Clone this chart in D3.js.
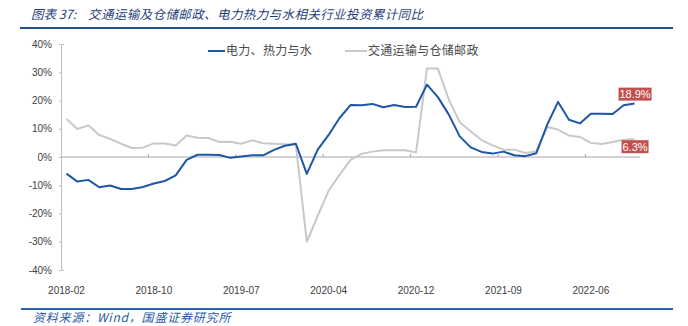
<!DOCTYPE html>
<html>
<head>
<meta charset="utf-8">
<script src="https://cdn.jsdelivr.net/npm/d3@7"></script>
<style>
  html, body { margin: 0; padding: 0; background: #fff; }
  svg { display: block; }
</style>
</head>
<body>
<svg id="chart" width="688" height="326"></svg>
<script>
// Monthly cumulative YoY investment growth (%), January folded into February
const categories = [
  "2018-02","2018-03","2018-04","2018-05","2018-06","2018-07","2018-08","2018-09","2018-10","2018-11","2018-12",
  "2019-02","2019-03","2019-04","2019-05","2019-06","2019-07","2019-08","2019-09","2019-10","2019-11","2019-12",
  "2020-02","2020-03","2020-04","2020-05","2020-06","2020-07","2020-08","2020-09","2020-10","2020-11","2020-12",
  "2021-02","2021-03","2021-04","2021-05","2021-06","2021-07","2021-08","2021-09","2021-10","2021-11","2021-12",
  "2022-02","2022-03","2022-04","2022-05","2022-06","2022-07","2022-08","2022-09","2022-10"
];

// 电力、热力与水
const powerHeatWater = [
  -5.9, -8.7, -8.1, -10.7, -10.1, -11.3, -11.3, -10.6, -9.4, -8.5, -6.5,
  -1.0, 0.8, 0.8, 0.7, -0.3, 0.2, 0.6, 0.6, 2.5, 4.0, 4.7,
  -6.0, 2.6, 7.8, 13.8, 18.4, 18.3, 18.8, 17.6, 18.4, 17.7, 17.8,
  25.6, 21.2, 15.0, 7.3, 3.4, 1.8, 1.2, 1.9, 0.6, 0.3, 1.3,
  11.4, 19.5, 13.2, 11.9, 15.3, 15.3, 15.2, 18.3, 18.9
];

// 交通运输与仓储邮政
const transportStorage = [
  13.5, 9.9, 11.2, 7.8, 6.4, 4.7, 3.2, 3.3, 4.8, 4.8, 4.1,
  7.6, 6.8, 6.7, 5.3, 5.4, 4.7, 5.9, 4.9, 4.7, 4.5, 4.3,
  -30.0, -20.8, -11.9, -6.3, -1.0, 1.1, 1.9, 2.4, 2.4, 2.4, 1.6,
  31.3, 31.3, 20.3, 12.3, 9.1, 6.0, 4.1, 2.6, 2.6, 1.4, 2.0,
  10.6, 9.7, 7.6, 7.1, 5.0, 4.6, 5.3, 6.1, 6.3
];

const yTicks = [40, 30, 20, 10, 0, -10, -20, -30, -40];
const xLabels = ["2018-02","2018-10","2019-07","2020-04","2020-12","2021-09","2022-06"];

const seriesNames = ["电力、热力与水", "交通运输与仓储邮政"];
const seriesColors = ["#1f56a6", "#c8c8c8"];

const svg = d3.select("#chart");
const plotLeft = 61, plotRight = 640, plotTop = 44, plotBottom = 270;

const x = d3.scaleBand().domain(categories).range([plotLeft, plotRight]).padding(0);
const y = d3.scaleLinear().domain([-40, 40]).range([plotBottom, plotTop]);
const cx = d => x(d) + x.bandwidth() / 2;

const latin = "'Liberation Sans', Arial, sans-serif";
const cjk = "'Noto Sans CJK SC', 'Noto Sans', sans-serif";

// Header: figure number, then the caption
svg.append("text")
  .attr("x", 31).attr("y", 19)
  .attr("font-family", cjk).attr("font-size", 12.5)
  .attr("font-style", "italic")
  .attr("fill", "#1f3f7a")
  .text("图表 37:");
svg.append("text")
  .attr("x", 88).attr("y", 19)
  .attr("font-family", cjk).attr("font-size", 12.5)
  .attr("letter-spacing", 0.4)
  .attr("font-style", "italic")
  .attr("fill", "#1f3f7a")
  .text("交通运输及仓储邮政、电力热力与水相关行业投资累计同比");

svg.append("line")
  .attr("x1", 20).attr("x2", 673).attr("y1", 28).attr("y2", 28)
  .attr("stroke", "#1f4e8c").attr("stroke-width", 2);

svg.append("line")
  .attr("x1", 21).attr("x2", 673).attr("y1", 309).attr("y2", 309)
  .attr("stroke", "#2e62aa").attr("stroke-width", 2);

svg.append("text")
  .attr("x", 33).attr("y", 322)
  .attr("font-family", cjk).attr("font-size", 12)
  .attr("letter-spacing", 0.8)
  .attr("font-style", "italic")
  .attr("fill", "#2a5aa5")
  .text("资料来源：Wind，国盛证券研究所");

// Y axis
const yAxis = d3.axisLeft(y)
  .tickValues(yTicks)
  .tickFormat(d => d + "%")
  .tickSizeInner(2)
  .tickSizeOuter(-3)
  .tickPadding(7);

const gy = svg.append("g")
  .attr("transform", `translate(${plotLeft},0)`)
  .call(yAxis);
gy.select(".domain").attr("stroke", "#bfbfbf");
gy.selectAll(".tick line").attr("stroke", "#bfbfbf");
gy.selectAll(".tick text")
  .attr("font-family", latin).attr("font-size", 10).attr("fill", "#404040");

// Category labels along the bottom
const xAxis = d3.axisBottom(x)
  .tickValues(xLabels)
  .tickSize(0)
  .tickPadding(0);

const gx = svg.append("g")
  .attr("transform", `translate(0,${287})`)
  .call(xAxis);
gx.select(".domain").remove();
gx.selectAll(".tick text")
  .attr("font-family", latin).attr("font-size", 10).attr("fill", "#404040");

// Zero line with category-boundary ticks
svg.append("line")
  .attr("x1", plotLeft).attr("x2", plotRight)
  .attr("y1", y(0)).attr("y2", y(0))
  .attr("stroke", "#a6a6a6").attr("stroke-width", 1.2);

svg.append("g").selectAll("line")
  .data(xLabels.slice(1))
  .join("line")
  .attr("x1", d => x(d)).attr("x2", d => x(d))
  .attr("y1", y(0)).attr("y2", y(0) - 3)
  .attr("stroke", "#a6a6a6");

// Series lines
const line = d3.line()
  .x((d, i) => cx(categories[i]))
  .y(d => y(d));

[[transportStorage, seriesColors[1]], [powerHeatWater, seriesColors[0]]].forEach(([vals, color]) => {
  svg.append("path")
    .datum(vals)
    .attr("d", line)
    .attr("fill", "none")
    .attr("stroke", color)
    .attr("stroke-width", 2)
    .attr("stroke-linejoin", "round");
});

// Legend
const legend = [
  { name: seriesNames[0], color: seriesColors[0], x1: 208, x2: 225 },
  { name: seriesNames[1], color: seriesColors[1], x1: 345, x2: 367 }
];
legend.forEach(l => {
  svg.append("line")
    .attr("x1", l.x1).attr("x2", l.x2).attr("y1", 51).attr("y2", 51)
    .attr("stroke", l.color).attr("stroke-width", 2);
  svg.append("text")
    .attr("x", l.x2 + 1).attr("y", 55)
    .attr("font-family", cjk).attr("font-size", 12)
    .attr("letter-spacing", 0.3)
    .attr("fill", "#4a4a4a")
    .text(l.name);
});

// End-of-series value tags
const lastCat = categories[categories.length - 1];
const tags = [
  { v: powerHeatWater[powerHeatWater.length - 1], dy: -9.5, w: 33 },
  { v: transportStorage[transportStorage.length - 1], dy: 7.5, w: 27 }
];
tags.forEach(t => {
  const tx = cx(lastCat) + 0.5;
  const ty = y(t.v) + t.dy;
  svg.append("rect")
    .attr("x", tx - t.w / 2).attr("y", ty - 6.5)
    .attr("width", t.w).attr("height", 13)
    .attr("fill", "#c0504d");
  svg.append("text")
    .attr("x", tx).attr("y", ty + 4)
    .attr("text-anchor", "middle")
    .attr("font-family", latin).attr("font-size", 11)
    .attr("fill", "#ffffff")
    .text(t.v.toFixed(1) + "%");
});
</script>
</body>
</html>
